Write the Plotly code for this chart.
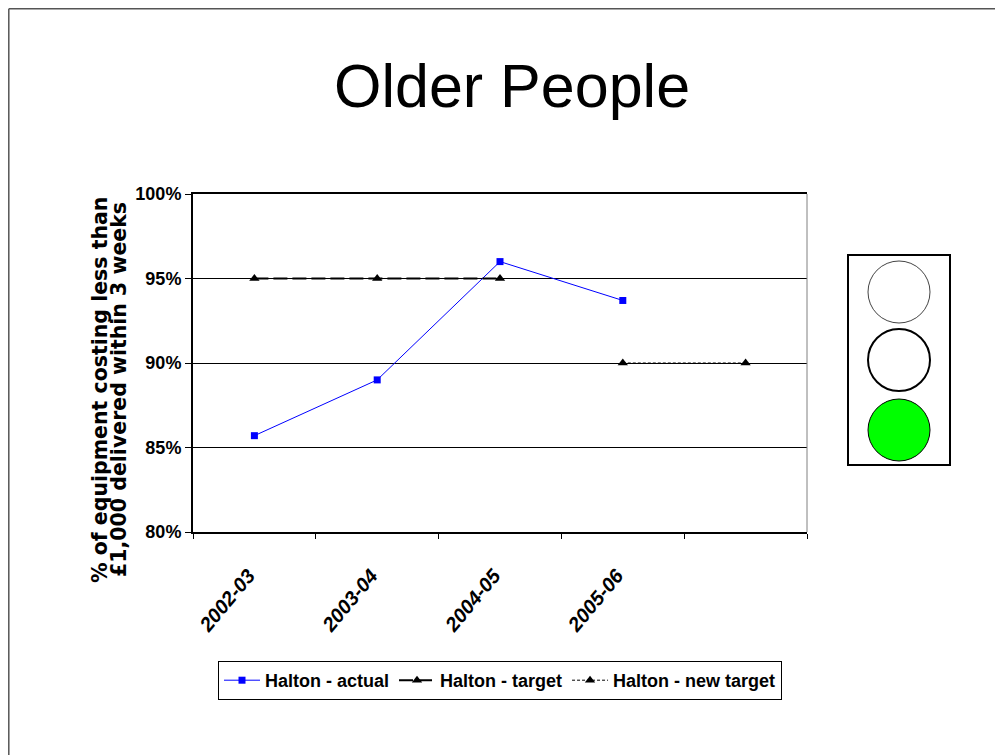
import plotly.graph_objects as go

W, H = 1003, 755
# the page body adds an 8px margin around the figure
OFFSET = 8

PERIODS = ["2002-03", "2003-04", "2004-05", "2005-06", "2006-07"]
TICK_LABELS = ["2002-03", "2003-04", "2004-05", "2005-06", ""]
ACTUAL = [0.857, 0.890, 0.960, 0.937, None]
TARGET = [0.95, 0.95, 0.95, None, None]
NEW_TARGET = [None, None, None, 0.90, 0.90]
Y_TICKS = [0.80, 0.85, 0.90, 0.95, 1.00]
Y_TITLE = ["% of equipment costing less than", "£1,000 delivered within 3 weeks"]

SANS = "Liberation Sans, Arial, DejaVu Sans"
WIDE = "DejaVu Sans, Verdana, Arial"


def px_x(x):
    return (x - OFFSET) / W


def px_y(y):
    return 1 - (y - OFFSET) / H


xs = list(range(len(PERIODS)))

fig = go.Figure()

fig.add_trace(
    go.Scatter(
        x=xs,
        y=ACTUAL,
        name="Halton - actual",
        mode="lines+markers",
        line=dict(color="#0000FF", width=1),
        marker=dict(symbol="square", size=7, color="#0000FF"),
    )
)
fig.add_trace(
    go.Scatter(
        x=xs,
        y=TARGET,
        name="Halton - target",
        mode="lines+markers",
        line=dict(color="#000000", width=2, dash="14px,5px"),
        marker=dict(symbol="triangle-up", size=9, color="#000000"),
    )
)
fig.add_trace(
    go.Scatter(
        x=xs,
        y=NEW_TARGET,
        name="Halton - new target",
        mode="lines+markers",
        line=dict(color="#000000", width=1, dash="3px,2px"),
        marker=dict(symbol="triangle-up", size=9, color="#000000"),
    )
)

shapes = [
    # slide outline
    dict(type="line", xref="paper", yref="paper",
         x0=px_x(8.8), x1=px_x(8.8), y0=px_y(8.8), y1=0,
         line=dict(color="#555555", width=1.5)),
    dict(type="line", xref="paper", yref="paper",
         x0=px_x(8.8), x1=1, y0=px_y(8.8), y1=px_y(8.8),
         line=dict(color="#555555", width=1.5)),
    # right edge of plot area
    dict(type="line", xref="paper", yref="paper",
         x0=px_x(807), x1=px_x(807), y0=px_y(194), y1=px_y(532),
         line=dict(color="#808080", width=1)),
    # traffic light
    dict(type="rect", xref="paper", yref="paper",
         x0=px_x(848), x1=px_x(950), y0=px_y(255), y1=px_y(465),
         line=dict(color="#000000", width=2), fillcolor="white"),
]
for cy, color, edge, lw in [
    (292, "white", "#444444", 1),
    (360, "white", "#000000", 2),
    (430, "#00FF00", "#000000", 1),
]:
    shapes.append(
        dict(type="circle", xref="paper", yref="paper",
             x0=px_x(868), x1=px_x(930), y0=px_y(cy + 31), y1=px_y(cy - 31),
             line=dict(color=edge, width=lw), fillcolor=color)
    )

annotations = [
    dict(text="Older People", xref="paper", yref="paper",
         x=px_x(512), y=px_y(86), xanchor="center", yanchor="middle",
         showarrow=False, font=dict(family=SANS, size=61, color="#000000")),
]
for line_x, text in zip([100, 119], Y_TITLE):
    annotations.append(
        dict(text=text, xref="paper", yref="paper",
             x=px_x(line_x), y=px_y(390), xanchor="center", yanchor="middle",
             showarrow=False, textangle=-90,
             font=dict(family=WIDE, size=20.5, color="#000000", weight="bold"))
    )

fig.update_layout(
    width=W,
    height=H,
    margin=dict(l=0, r=0, t=0, b=0, pad=0),
    autosize=False,
    paper_bgcolor="white",
    plot_bgcolor="white",
    showlegend=True,
    legend=dict(
        orientation="h",
        x=px_x(218),
        y=px_y(661),
        xanchor="left",
        yanchor="top",
        bordercolor="#000000",
        borderwidth=1,
        font=dict(family=SANS, size=18, color="#000000", weight="bold"),
        itemwidth=36,
        tracegroupgap=0,
    ),
    shapes=shapes,
    annotations=annotations,
)

fig.update_xaxes(
    automargin=False,
    domain=[px_x(193), px_x(807)],
    range=[-0.5, len(PERIODS) - 0.5],
    tickvals=xs,
    ticktext=TICK_LABELS,
    tickangle=-50,
    ticks="",
    ticklabelstandoff=22,
    ticklabelshift=-6,
    tickfont=dict(family=SANS, size=20, color="#000000", weight="bold", style="italic"),
    showgrid=False,
    zeroline=False,
    showline=True,
    linecolor="#000000",
    linewidth=2,
    mirror=True,
    minor=dict(tick0=0.5, dtick=1, ticks="outside", ticklen=5, tickcolor="#000000", showgrid=False),
)
fig.update_yaxes(
    automargin=False,
    domain=[px_y(532), px_y(194)],
    range=[0.80, 1.00],
    tickvals=Y_TICKS,
    tickformat=".0%",
    ticks="outside",
    ticklen=6,
    tickcolor="#000000",
    tickfont=dict(family=SANS, size=18, color="#000000", weight="bold"),
    showgrid=True,
    gridcolor="#000000",
    gridwidth=1,
    zeroline=False,
    showline=True,
    linecolor="#000000",
    linewidth=2,
)

fig.write_html("out.html")
